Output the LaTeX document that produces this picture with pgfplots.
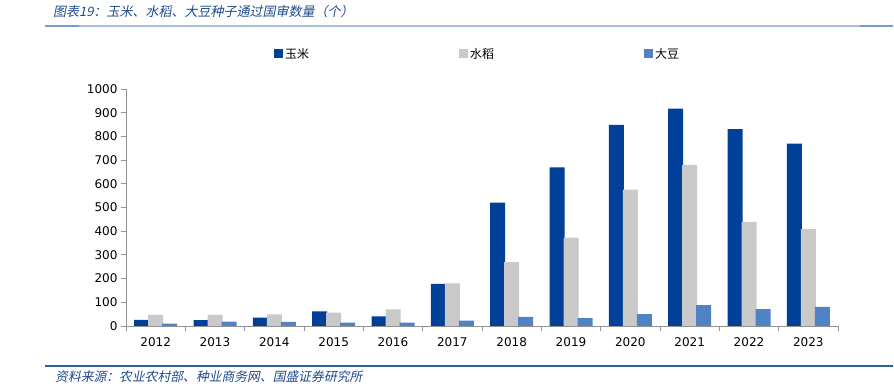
\documentclass[border=0pt]{standalone}
\usepackage{pgfplots}
\pgfplotsset{compat=1.18}
\usepackage{fontspec}
\setmainfont{DejaVu Sans}
\newfontfamily\cjk[FakeSlant=0.2]{Noto Sans CJK SC}
\newfontfamily\cjkup{Noto Sans CJK SC}
\definecolor{corn}{RGB}{0,64,152}
\definecolor{rice}{RGB}{201,201,201}
\definecolor{soy}{RGB}{79,131,198}
\definecolor{titleblue}{RGB}{31,73,140}
\definecolor{linelight}{RGB}{170,191,222}
\definecolor{linedark}{RGB}{120,155,205}
\definecolor{footline}{RGB}{46,94,158}
\begin{document}
\begin{tikzpicture}
\useasboundingbox (0,0) rectangle (894bp,392bp);
\node[anchor=west, text=titleblue, font=\cjk\fontsize{13bp}{15bp}\selectfont, inner sep=0pt] at (53bp,380bp) {图表19：玉米、水稻、大豆种子通过国审数量（个）};
\draw[line width=1.5bp, color=linelight] (45bp,366bp) -- (893bp,366bp);
\draw[line width=1.8bp, color=linedark] (45bp,366bp) -- (79bp,366bp);
\draw[line width=1.8bp, color=linedark] (860bp,366bp) -- (893bp,366bp);
\draw[line width=1.3bp, color=footline] (45bp,26bp) -- (893bp,26bp);
\node[anchor=west, text=titleblue, font=\cjk\fontsize{12.8bp}{15bp}\selectfont, inner sep=0pt] at (55bp,15bp) {资料来源：农业农村部、种业商务网、国盛证券研究所};
\begin{axis}[
  at={(126bp,66bp)}, anchor=south west,
  scale only axis, width=712bp, height=237bp,
  ybar=-1bp, bar width=15bp,
  xmin=-0.5, xmax=11.5, ymin=0, ymax=1000,
  enlargelimits=false,
  xtick={0,...,11},
  xticklabels={2012,2013,2014,2015,2016,2017,2018,2019,2020,2021,2022,2023},
  minor xtick={-0.5,0.5,...,11.5},
  major x tick style={draw=none},
  ytick={0,100,...,1000},
  tick align=outside,
  major tick length=5bp, minor tick length=5bp,
  axis x line*=bottom, axis y line*=left,
  axis line style={draw=gray!85, line width=0.8bp, -},
  tick style={draw=gray!85, line width=0.8bp},
  tick label style={font=\fontsize{12bp}{14bp}\selectfont},
  xticklabel style={yshift=-3bp},
  /pgf/number format/assume math mode=true,
  /pgf/number format/1000 sep={},
  legend columns=3,
  legend style={draw=none, fill=none, at={(0.494,1.148)}, anchor=center,
    font=\cjkup\fontsize{12bp}{14bp}\selectfont,
    /tikz/every even column/.append style={column sep=148bp}},
  legend image code/.code={\fill[#1] (0bp,-4.5bp) rectangle (9bp,4.5bp);},
]
\addplot[fill=corn, draw=none] coordinates {(0,26) (1,25) (2,35) (3,62) (4,41) (5,178) (6,521) (7,669) (8,849) (9,917) (10,831) (11,769)};
\addplot[fill=rice, draw=none] coordinates {(0,47) (1,47) (2,49) (3,56) (4,70) (5,180) (6,270) (7,373) (8,575) (9,680) (10,439) (11,409)};
\addplot[fill=soy, draw=none] coordinates {(0,10) (1,18) (2,17) (3,14) (4,14) (5,23) (6,38) (7,33) (8,50) (9,88) (10,71) (11,81)};
\legend{玉米,水稻,大豆}
\end{axis}
\end{tikzpicture}
\end{document}
